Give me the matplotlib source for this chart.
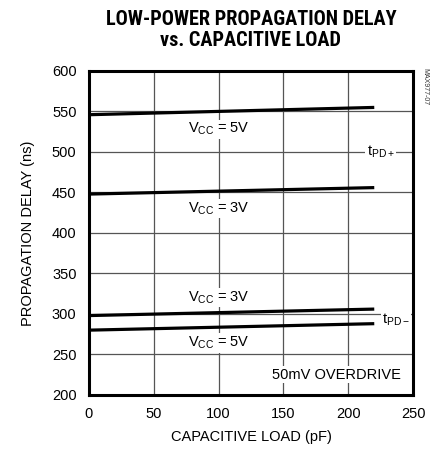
import numpy as np
import matplotlib
matplotlib.use("Agg")
import matplotlib.pyplot as plt
from matplotlib import font_manager

plt.rcParams['font.family'] = ['Liberation Sans', 'DejaVu Sans']
plt.rcParams['mathtext.fontset'] = 'custom'
plt.rcParams['mathtext.rm'] = 'Liberation Sans'
plt.rcParams['mathtext.it'] = 'Liberation Sans'

# capacitive load (pF)
load = [0, 220]
# propagation delay (ns)
tpd_plus_5v = [546, 555]
tpd_plus_3v = [448, 456]
tpd_minus_3v = [298, 306]
tpd_minus_5v = [280, 288]

xticks = [0, 50, 100, 150, 200, 250]
yticks = [200, 250, 300, 350, 400, 450, 500, 550, 600]

names = set(f.name for f in font_manager.fontManager.ttflist)
narrow = [n for n in ('Roboto Condensed', 'Liberation Sans Narrow', 'Open Sans Condensed')
          if n in names]
title_font = narrow[0] if narrow else 'Liberation Sans'
title_size = 14.6 if narrow else 11

fig = plt.figure(figsize=(4.34, 4.55), dpi=100)
ax = fig.add_axes([0.205, 0.132, 0.747, 0.712])

for y in (tpd_plus_5v, tpd_plus_3v, tpd_minus_3v, tpd_minus_5v):
    ax.plot(load, y, color='black', lw=2.3, solid_capstyle='butt', zorder=3)

ax.set_xlim(0, 250)
ax.set_ylim(200, 600)
ax.set_xticks(xticks)
ax.set_yticks(yticks)
ax.grid(True, color='#555555', lw=0.9)
ax.tick_params(length=0, labelsize=10.5, pad=9)
for s in ax.spines.values():
    s.set_linewidth(2.2)

ax.set_xlabel('CAPACITIVE LOAD (pF)', fontsize=10.5, labelpad=6)
ax.set_ylabel('PROPAGATION DELAY (ns)', fontsize=10.5, labelpad=12)
fig.suptitle('LOW-POWER PROPAGATION DELAY\nvs. CAPACITIVE LOAD', x=0.578, y=0.977,
             fontsize=title_size, fontweight='bold', family=title_font,
             linespacing=1.1)

box = dict(facecolor='white', edgecolor='none', pad=1)
lab = dict(fontsize=10.5, ha='center', va='center', bbox=box, zorder=4)
ax.text(100, 528, r'V$_{\mathrm{CC}}$ = 5V', **lab)
ax.text(100, 430, r'V$_{\mathrm{CC}}$ = 3V', **lab)
ax.text(100, 320, r'V$_{\mathrm{CC}}$ = 3V', **lab)
ax.text(100, 264, r'V$_{\mathrm{CC}}$ = 5V', **lab)
ax.text(225, 500, r't$_{\mathrm{PD+}}$', **lab)
ax.text(226, 293, r't$_{\mathrm{PD-}}$', fontsize=10.5, ha='left', va='center',
        bbox=box, zorder=5, clip_on=False)
ax.text(191, 225, '50mV OVERDRIVE', **lab)
fig.text(0.979, 0.85, 'MAX977-07', rotation=-90, fontsize=5, ha='center', va='top',
         color='#333333')

fig.savefig('out.png', dpi=100)
